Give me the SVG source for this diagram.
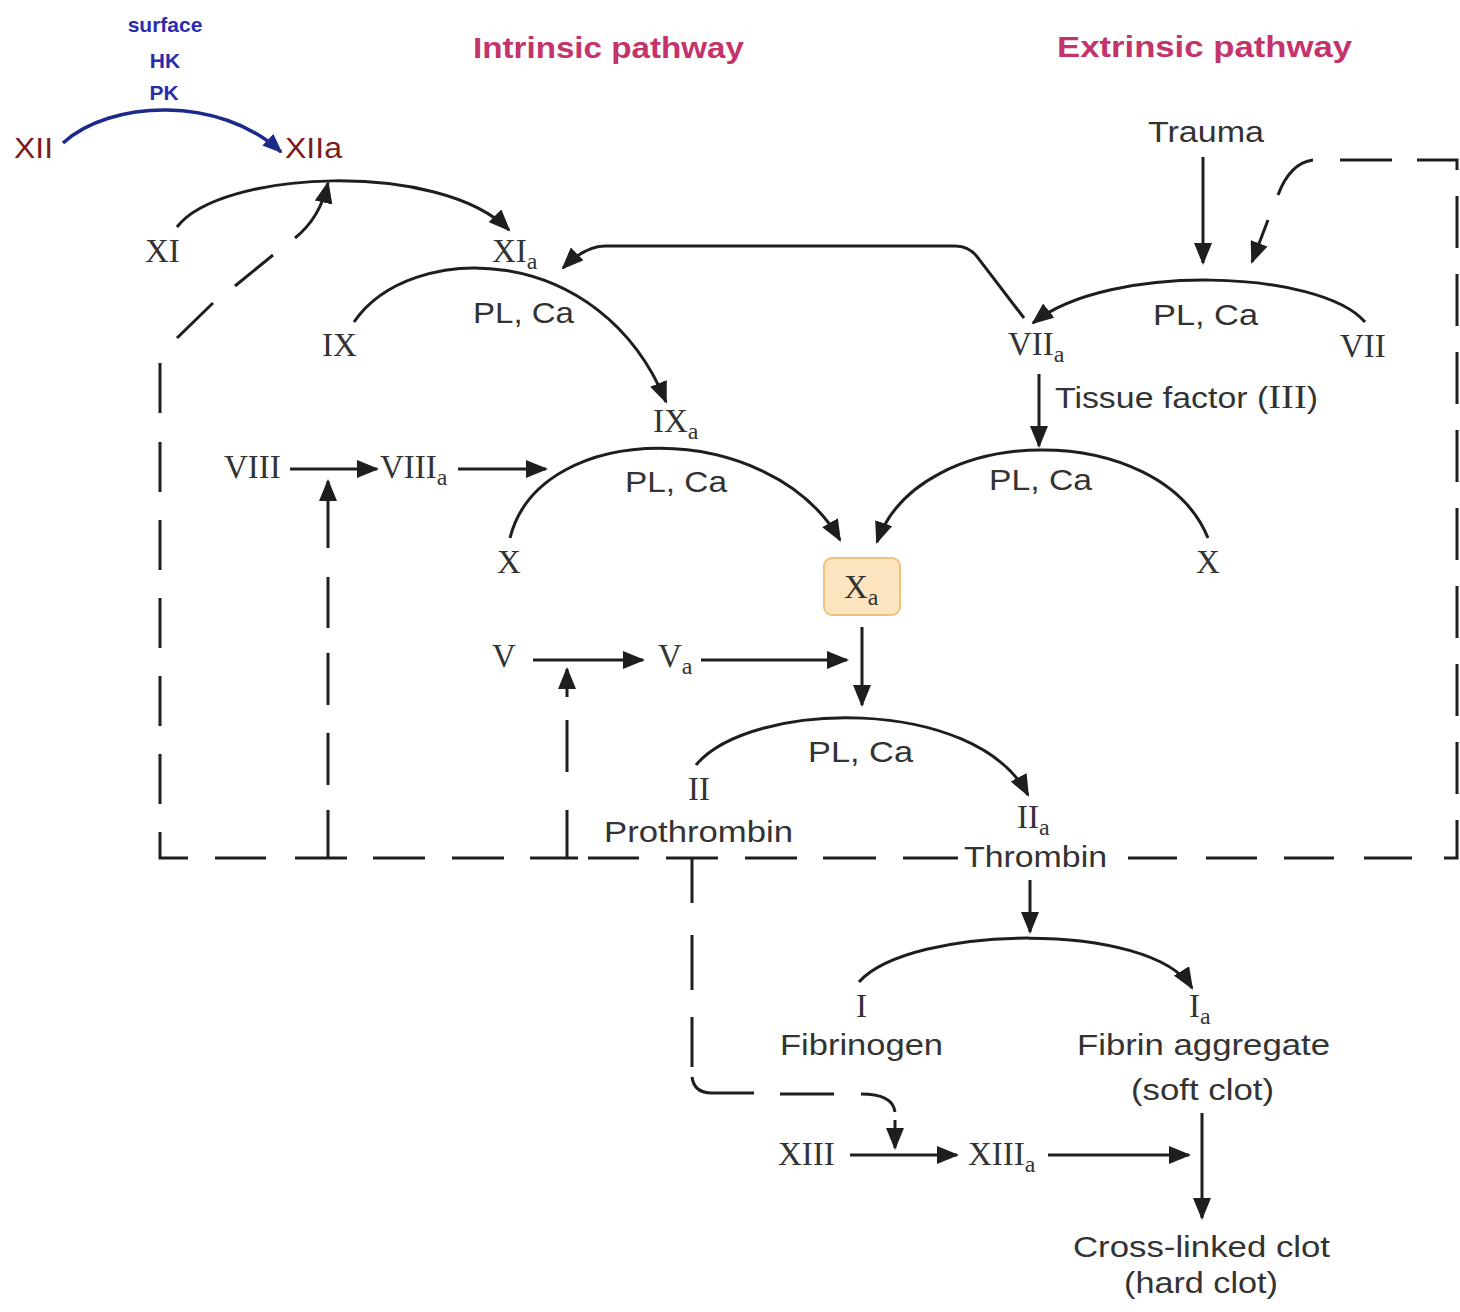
<svg xmlns="http://www.w3.org/2000/svg" width="1460" height="1312" viewBox="0 0 1460 1312">
<defs>
<marker id="ah" markerUnits="userSpaceOnUse" markerWidth="22" markerHeight="18" viewBox="0 0 22 18" refX="20" refY="9" orient="auto"><path d="M0,0 L22,9 L0,18 z" fill="#1e1e1e"/></marker>
<marker id="ahb" markerUnits="userSpaceOnUse" markerWidth="20" markerHeight="16" viewBox="0 0 20 16" refX="18" refY="8" orient="auto"><path d="M0,0 L20,8 L0,16 z" fill="#1c2a8a"/></marker>
<style>
.ln{fill:none;stroke:#1e1e1e;stroke-width:3}
.arr{marker-end:url(#ah)}
.rn{font-family:"Liberation Serif","Times New Roman",serif;font-size:33px;fill:#333}
.sub{font-size:24px}
.sn{font-family:"Liberation Sans",Arial,sans-serif;font-size:29px;fill:#333}
.tt{font-family:"Liberation Sans",Arial,sans-serif;font-size:29px;font-weight:bold;fill:#c4336b}
.bl{font-family:"Liberation Sans",Arial,sans-serif;font-size:21px;font-weight:bold;fill:#2b2bb0;text-anchor:middle}
.xr{font-family:"Liberation Sans",Arial,sans-serif;font-size:29px;fill:#7b1c1c}
</style>
</defs>
<rect width="1460" height="1312" fill="#ffffff"/>

<g id="titles">
<text class="tt" x="473" y="58" textLength="271" lengthAdjust="spacingAndGlyphs">Intrinsic pathway</text>
<text class="tt" x="1057" y="57" textLength="295" lengthAdjust="spacingAndGlyphs">Extrinsic pathway</text>
</g>

<g id="connectors">
<path d="M63 143 C110 100 220 95 281 152" fill="none" stroke="#1c2a8a" stroke-width="3.5" marker-end="url(#ahb)"/>
<path class="ln arr" d="M177 227 C220 170 440 160 509 230"/>
<path class="ln arr" d="M354 322 C410 240 600 240 666 402"/>
<path class="ln arr" d="M1024 318 L978 258 Q970 246 955 246 L605 246 Q585 246 563 268"/>
<path class="ln arr" d="M1203 157 V263"/>
<path class="ln arr" d="M1365 322 C1320 270 1110 262 1033 323"/>
<path class="ln arr" d="M1039 374 V446"/>
<path class="ln arr" d="M290 469 H377"/>
<path class="ln arr" d="M458 469 H546"/>
<path class="ln arr" d="M510 538 C540 418 770 418 840 540"/>
<path class="ln arr" d="M1208 538 C1160 420 920 420 877 542"/>
<path class="ln arr" d="M533 660 H643"/>
<path class="ln arr" d="M701 660 H847"/>
<path class="ln arr" d="M862 627 V705"/>
<path class="ln arr" d="M696 765 C750 700 975 695 1028 795"/>
<path class="ln arr" d="M1030 880 V932"/>
<path class="ln arr" d="M859 982 C910 925 1150 920 1192 988"/>
<path class="ln arr" d="M850 1155 H957"/>
<path class="ln arr" d="M1048 1155 H1189"/>
<path class="ln arr" d="M1202 1113 V1218"/>

<path class="ln" d="M160 363 V413 M160 442 V492 M160 520 V570 M160 598 V648 M160 676 V726 M160 754 V804 M160 832 V858 H188 M215 858 H266 M295 858 H347 M373 858 H425 M452 858 H504 M530 858 H578 M588 858 H639 M666 858 H718 M745 858 H797 M823 858 H876 M903 858 H958"/>
<path class="ln" d="M1128 858 H1177 M1206 858 H1257 M1284 858 H1334 M1364 858 H1412 M1444 858 H1457 V820 M1457 794 V742 M1457 716 V664 M1457 638 V586 M1457 560 V508 M1457 482 V430 M1457 404 V352 M1457 326 V274 M1457 248 V196 M1457 170 V160 H1417 M1392 160 H1340 M1313 160 Q1290 163 1278 195"/>
<path class="ln arr" d="M1268 220 L1252 262"/>
<path class="ln" d="M177 338 L213 303 M235 286 L273 255"/>
<path class="ln arr" d="M295 238 Q320 218 328 183"/>
<path class="ln" d="M328 858 V810 M328 785 V733 M328 705 V653 M328 628 V577"/>
<path class="ln arr" d="M328 548 V481"/>
<path class="ln" d="M567 858 V810 M567 772 V720"/>
<path class="ln arr" d="M567 697 V669"/>
<path class="ln" d="M692 858 V903 M692 935 V990 M692 1017 V1067 M692 1077 Q694 1093 712 1093 L754 1093 M780 1094 L834 1094 M861 1094 Q893 1094 895 1112"/>
<path class="ln arr" d="M895 1120 V1148"/>
</g>

<g id="node-XII"><text class="xr" x="14" y="158" textLength="39" lengthAdjust="spacingAndGlyphs">XII</text></g>
<g id="node-XIIa"><text class="xr" x="285" y="158" textLength="57" lengthAdjust="spacingAndGlyphs">XIIa</text></g>
<g id="label-surface">
<text class="bl" x="165" y="32">surface</text>
<text class="bl" x="165" y="68">HK</text>
<text class="bl" x="164" y="100">PK</text>
</g>

<g id="node-XI"><text class="rn" x="145" y="262">XI</text></g>
<g id="node-XIa"><text class="rn" x="492" y="262">XI<tspan class="sub" dy="7">a</tspan></text></g>
<g id="node-IX"><text class="rn" x="322" y="356">IX</text></g>
<g id="label-plca-1"><text class="sn" x="473" y="323" textLength="101" lengthAdjust="spacingAndGlyphs">PL, Ca</text></g>
<g id="node-IXa"><text class="rn" x="653" y="432">IX<tspan class="sub" dy="7">a</tspan></text></g>

<g id="node-Trauma"><text class="sn" x="1148" y="142" textLength="116" lengthAdjust="spacingAndGlyphs">Trauma</text></g>
<g id="node-VIIa"><text class="rn" x="1008" y="355">VII<tspan class="sub" dy="7">a</tspan></text></g>
<g id="node-VII"><text class="rn" x="1340" y="357">VII</text></g>
<g id="label-plca-2"><text class="sn" x="1153" y="325" textLength="105" lengthAdjust="spacingAndGlyphs">PL, Ca</text></g>
<g id="label-tissue">
<text x="1055" y="408" textLength="263" lengthAdjust="spacingAndGlyphs"><tspan class="sn">Tissue factor (</tspan><tspan class="rn" font-size="30">III</tspan><tspan class="sn">)</tspan></text>
</g>

<g id="node-VIII"><text class="rn" x="224" y="478">VIII</text></g>
<g id="node-VIIIa"><text class="rn" x="380" y="478">VIII<tspan class="sub" dy="7">a</tspan></text></g>
<g id="label-plca-3"><text class="sn" x="625" y="492" textLength="102" lengthAdjust="spacingAndGlyphs">PL, Ca</text></g>
<g id="label-plca-4"><text class="sn" x="989" y="490" textLength="103" lengthAdjust="spacingAndGlyphs">PL, Ca</text></g>
<g id="node-X-left"><text class="rn" x="497" y="573">X</text></g>
<g id="node-X-right"><text class="rn" x="1196" y="573">X</text></g>

<g id="node-Xa">
<rect x="824" y="558" width="76" height="57" rx="8" fill="#fce4bf" stroke="#efc27f" stroke-width="2"/>
<text class="rn" x="844" y="598">X<tspan class="sub" dy="7">a</tspan></text>
</g>

<g id="node-V"><text class="rn" x="492" y="667">V</text></g>
<g id="node-Va"><text class="rn" x="658" y="667">V<tspan class="sub" dy="7">a</tspan></text></g>

<g id="label-plca-5"><text class="sn" x="808" y="762" textLength="105" lengthAdjust="spacingAndGlyphs">PL, Ca</text></g>
<g id="node-II">
<text class="rn" x="688" y="800">II</text>
<text class="sn" x="604" y="842" textLength="189" lengthAdjust="spacingAndGlyphs">Prothrombin</text>
</g>
<g id="node-IIa">
<text class="rn" x="1017" y="828">II<tspan class="sub" dy="7">a</tspan></text>
<text class="sn" x="964" y="867" textLength="143" lengthAdjust="spacingAndGlyphs">Thrombin</text>
</g>

<g id="node-I">
<text class="rn" x="856" y="1017">I</text>
<text class="sn" x="780" y="1055" textLength="163" lengthAdjust="spacingAndGlyphs">Fibrinogen</text>
</g>
<g id="node-Ia">
<text class="rn" x="1189" y="1017">I<tspan class="sub" dy="7">a</tspan></text>
<text class="sn" x="1077" y="1055" textLength="253" lengthAdjust="spacingAndGlyphs">Fibrin aggregate</text>
<text class="sn" x="1131" y="1100" textLength="143" lengthAdjust="spacingAndGlyphs">(soft clot)</text>
</g>

<g id="node-XIII"><text class="rn" x="778" y="1165">XIII</text></g>
<g id="node-XIIIa"><text class="rn" x="968" y="1165">XIII<tspan class="sub" dy="7">a</tspan></text></g>

<g id="node-hardclot">
<text class="sn" x="1073" y="1257" textLength="257" lengthAdjust="spacingAndGlyphs">Cross-linked clot</text>
<text class="sn" x="1124" y="1293" textLength="154" lengthAdjust="spacingAndGlyphs">(hard clot)</text>
</g>
</svg>
